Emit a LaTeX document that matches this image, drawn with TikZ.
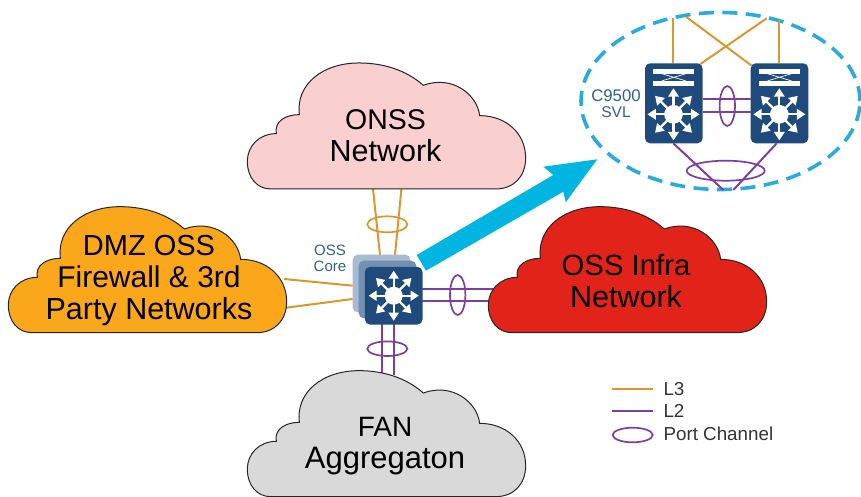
\documentclass[tikz,border=0pt]{standalone}
\usepackage{fontspec}
\usetikzlibrary{shapes.geometric}
\setmainfont{Liberation Sans}
\definecolor{orangeline}{HTML}{D8982F}
\definecolor{purpleline}{HTML}{7B3FA3}
\definecolor{navy}{HTML}{1F4A7C}
\definecolor{midblue}{HTML}{7390B2}
\definecolor{paleblue}{HTML}{A9BBD0}
\definecolor{labelblue}{HTML}{2F5F90}
\definecolor{dashblue}{HTML}{29ABE2}
\definecolor{bigarrow}{HTML}{00B5E2}
\definecolor{pinkcloud}{HTML}{F9CFCF}
\definecolor{ambercloud}{HTML}{FBA71B}
\definecolor{redcloud}{HTML}{E2231A}
\definecolor{greycloud}{HTML}{D9D9D9}
\newcommand{\fs}[2]{{\fontsize{#1}{32}\selectfont #2}}
\newcommand{\cloudat}[3]{%
  \begin{scope}[shift={(#1,#2)},x=0.3333pt,y=-0.3333pt]
  \draw[cloudline,fill=#3] (95,383) -- (770,383)
    .. controls (825,383) and (860,345) .. (860,290)
    .. controls (860,215) and (800,163) .. (722,163)
    .. controls (715,100) and (640,40) .. (553,72)
    .. controls (500,25) and (430,5) .. (360,5)
    .. controls (250,5) and (170,70) .. (181,160)
    .. controls (140,160) and (105,180) .. (112,217)
    .. controls (60,217) and (25,255) .. (25,300)
    .. controls (25,350) and (55,383) .. (95,383) -- cycle;
  \end{scope}}
\newcommand{\hubicon}[3]{%
  \begin{scope}[shift={(#1,#2)}]
  \fill[white] (0,0) circle (#3*0.36);
  \foreach \ang in {0,45,...,315}{
    \begin{scope}[rotate=\ang]
    \draw[white,line width=2.3pt] (0,0) -- (#3*0.8,0);
    \fill[white] (#3,0) -- (#3*0.68,#3*0.21) -- (#3*0.68,-#3*0.21) -- cycle;
    \end{scope}}
  \end{scope}}
\newcommand{\bridgeicon}[2]{%
  \begin{scope}[shift={(#1,#2)}]
  \fill[white] (-20.5,-8.3) rectangle (20.5,-3.6);
  \fill[white] (-20.5,8.4) rectangle (20.5,3.6);
  \draw[white,line width=0.7pt] (-12,-3.6) -- (12,3.6) (-12,3.6) -- (12,-3.6);
  \end{scope}}
\tikzset{
  cloudline/.style={draw=black!85,line width=1pt},
  lthree/.style={draw=orangeline,line width=2pt},
  ltwo/.style={draw=purpleline,line width=2pt},
  pchannel/.style={ellipse,draw=purpleline,line width=1.7pt,inner sep=0pt},
  pchannelor/.style={ellipse,draw=orangeline,line width=1.7pt,inner sep=0pt},
  cloudlabel/.style={align=center,text=black,inner sep=0pt,font=\fontsize{30}{32}\selectfont},
  smalllabel/.style={align=center,font=\fontsize{15}{16}\selectfont,text=labelblue,inner sep=0pt},
  legendlabel/.style={anchor=base west,font=\fontsize{18.8}{20}\selectfont,text=black!80,inner sep=0pt},
  switchbox/.style={rounded corners=5pt,inner sep=0pt,minimum width=57.6pt}
}
\begin{document}
\begin{tikzpicture}[x=1pt,y=-1pt]
\useasboundingbox (0,0) rectangle (861,497);

% core connector ends
\coordinate (onssA) at (372.7,186);
\coordinate (onssB) at (401.7,186);
\coordinate (coreTopA) at (380,255);
\coordinate (coreTopB) at (395,255);
\coordinate (dmzA) at (284,279);
\coordinate (dmzB) at (284,308);
\coordinate (coreLeftA) at (352.7,285.7);
\coordinate (coreLeftB) at (352.7,299);
\coordinate (infraA) at (495,288.7);
\coordinate (infraB) at (495,301);
\coordinate (coreRightA) at (422,288.7);
\coordinate (coreRightB) at (422,301);
\coordinate (fanA) at (381.7,375);
\coordinate (fanB) at (393.7,375);
\coordinate (coreBotA) at (381.7,324);
\coordinate (coreBotB) at (393.7,324);

\draw[lthree] (onssA) -- (coreTopA);
\draw[lthree] (onssB) -- (coreTopB);
\draw[lthree] (dmzA) -- (coreLeftA);
\draw[lthree] (dmzB) -- (coreLeftB);
\draw[ltwo] (coreRightA) -- (infraA);
\draw[ltwo] (coreRightB) -- (infraB);
\draw[ltwo] (coreBotA) -- (fanA);
\draw[ltwo] (coreBotB) -- (fanB);

% clouds
\cloudat{239}{61.3}{pinkcloud}
\cloudat{0}{205}{ambercloud}
\cloudat{480}{205}{redcloud}
\cloudat{239}{369}{greycloud}

\node[cloudlabel] (onss) at (385.5,136) {\fs{28.5}{ONSS}\\\fs{30.5}{Network}};
\node[cloudlabel] (dmz) at (149,281) {\fs{29}{DMZ OSS}\\\fs{30}{Firewall \& 3rd}\\\fs{30.5}{Party Networks}};
\node[cloudlabel] (infra) at (626,281) {\fs{29.3}{OSS Infra}\\\fs{30.5}{Network}};
\node[cloudlabel] (fan) at (385,446) {\fs{28}{FAN}\\\fs{31}{Aggregaton}};

% port channels around the core
\node[pchannelor,minimum width=40pt,minimum height=16pt] (pcTop) at (387.3,224.3) {};
\node[pchannel,minimum width=15.4pt,minimum height=40pt] (pcRight) at (457.7,295) {};
\node[pchannel,minimum width=40pt,minimum height=14.6pt] (pcBot) at (387.3,348.7) {};

% core switch stack
\node[switchbox,fill=paleblue,minimum height=57.6pt] (coreBack) at (381.5,283.5) {};
\node[switchbox,fill=midblue,minimum height=57.6pt] (coreMid) at (387.5,289.5) {};
\node[switchbox,fill=navy,minimum height=57.6pt] (coreFront) at (393.7,295.7) {};
\hubicon{393.7}{295.7}{25}
\node[smalllabel] (ossCore) at (330,258) {OSS\\Core};

% big arrow
\fill[bigarrow] (416.7,255) -- (553.3,175) -- (543.3,166.7) -- (597.3,159.3)
  -- (565.7,202.3) -- (563.3,191.7) -- (426,270.7) -- cycle;

% C9500 SVL detail
\node[draw=dashblue,line width=3.6pt,dash pattern=on 15pt off 8.5pt,ellipse,inner sep=0pt,
  minimum width=279pt,minimum height=177pt] (svlRing) at (720.5,101) {};

\coordinate (upA) at (673.3,18);
\coordinate (upB) at (779.3,20);
\coordinate (upC) at (686,16.7);
\coordinate (upD) at (766.7,18.3);
\node[switchbox,fill=navy,minimum height=80pt] (swL) at (673.8,103.3) {};
\node[switchbox,fill=navy,minimum height=80pt] (swR) at (779.5,103.3) {};

\draw[lthree] (upA) -- (swL.north -| upA);
\draw[lthree] (upB) -- (swR.north -| upB);
\draw[lthree] (upC) -- (751.7,65.7);
\draw[lthree] (upD) -- (700,64.3);
\draw[ltwo] (swL.east |- 0,99.3) -- (swR.west |- 0,99.3);
\draw[ltwo] (swL.east |- 0,112.3) -- (swR.west |- 0,112.3);
\draw[ltwo] (673.3,143.3) -- (723.3,190);
\draw[ltwo] (776.7,143.3) -- (733.3,190);
\node[pchannel,minimum width=15.4pt,minimum height=40pt] (pcSvl) at (727.3,106) {};
\node[pchannel,minimum width=78pt,minimum height=20pt] (pcSvlBot) at (725.7,170.7) {};

\bridgeicon{673.8}{77.3}
\bridgeicon{779.5}{77.3}
\hubicon{673.5}{114.3}{26}
\hubicon{779.3}{114.3}{26}
\node[align=center,text=labelblue,inner sep=0pt,font=\fontsize{16}{16}\selectfont] (svlLabel) at (616,104) {{\fontsize{16.8}{16}\selectfont C9500}\\{\fontsize{15.5}{16}\selectfont SVL}};

% legend
\coordinate (legAa) at (612.3,389.3);
\coordinate (legAb) at (653.3,389.3);
\coordinate (legBa) at (612.3,411);
\coordinate (legBb) at (653.3,411);
\draw[lthree] (legAa) -- (legAb);
\draw[ltwo] (legBa) -- (legBb);
\node[pchannel,minimum width=40pt,minimum height=14.6pt] (legC) at (632.7,435) {};
\node[legendlabel] (legL3) at (663.3,395) {L3};
\node[legendlabel] (legL2) at (663.3,417.3) {L2};
\node[legendlabel] (legPC) at (663.3,440.7) {Port Channel};
\end{tikzpicture}
\end{document}
